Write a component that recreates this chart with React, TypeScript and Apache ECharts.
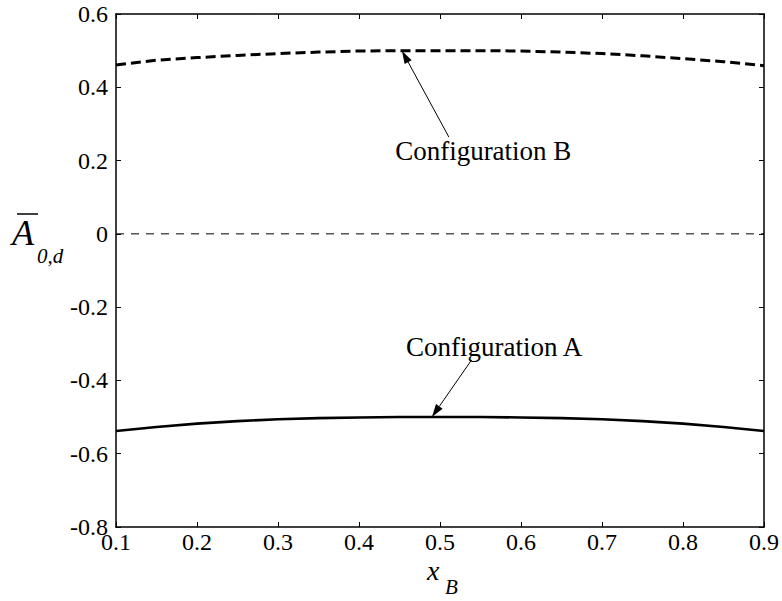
import React, { useEffect, useRef } from "react";
import * as echarts from "echarts";

// Positions along the axis x_B
const xB = [0.1, 0.15, 0.2, 0.25, 0.3, 0.35, 0.4, 0.45, 0.5, 0.55, 0.6, 0.65, 0.7, 0.75, 0.8, 0.85, 0.9];

// Mean coefficient for the two configurations
const configA = [-0.538, -0.527, -0.518, -0.511, -0.506, -0.503, -0.501, -0.5, -0.5, -0.5, -0.501, -0.503, -0.506, -0.511, -0.518, -0.527, -0.538];
const configB = [0.461, 0.474, 0.481, 0.487, 0.492, 0.496, 0.499, 0.5, 0.5, 0.5, 0.499, 0.496, 0.492, 0.486, 0.478, 0.47, 0.459];

// Reference line at zero
const zeroX = [0.1, 0.9];
const zeroY = [0, 0];

// Annotations: label anchor, arrow tail and arrow tip, in data coordinates
const labelB = { text: "Configuration B", at: [0.4446, 0.226], tail: [0.511, 0.264], tip: [0.453, 0.5] };
const labelA = { text: "Configuration A", at: [0.458, -0.309], tail: [0.539, -0.344], tip: [0.49, -0.5] };

const FONT = "Liberation Serif";

const pairs = (xs: number[], ys: number[]) => xs.map((x, i) => [x, ys[i]]);

export default function App() {
  const ref = useRef<HTMLDivElement>(null);

  useEffect(() => {
    if (!ref.current) return;
    const chart = echarts.init(ref.current, null, { renderer: "svg" });

    const axisLine = { show: true, onZero: false, lineStyle: { color: "#000", width: 1.5 } };
    const axisTick = { show: true, inside: true, length: 5, lineStyle: { color: "#000", width: 1 } };

    chart.setOption({
      animation: false,
      backgroundColor: "#fff",
      textStyle: { fontFamily: FONT },
      grid: { left: 116, right: 16, top: 14, bottom: 74, containLabel: false },
      xAxis: [
        {
          type: "value",
          min: 0.1,
          max: 0.9,
          interval: 0.1,
          position: "bottom",
          axisLine,
          axisTick,
          splitLine: { show: false },
          axisLabel: { color: "#000", fontFamily: FONT, fontSize: 24, margin: 5, lineHeight: 20 },
        },
        {
          type: "value",
          min: 0.1,
          max: 0.9,
          interval: 0.1,
          position: "top",
          axisLine,
          axisTick,
          splitLine: { show: false },
          axisLabel: { show: false },
        },
      ],
      yAxis: [
        {
          type: "value",
          min: -0.8,
          max: 0.6,
          interval: 0.2,
          position: "left",
          axisLine,
          axisTick,
          splitLine: { show: false },
          axisLabel: { color: "#000", fontFamily: FONT, fontSize: 24, margin: 8 },
        },
        {
          type: "value",
          min: -0.8,
          max: 0.6,
          interval: 0.2,
          position: "right",
          axisLine,
          axisTick,
          splitLine: { show: false },
          axisLabel: { show: false },
        },
      ],
      series: [
        {
          type: "line",
          name: "zero",
          data: pairs(zeroX, zeroY),
          symbol: "none",
          lineStyle: { color: "#000", width: 1, type: [8, 7] },
        },
        {
          type: "line",
          name: "Configuration A",
          data: pairs(xB, configA),
          symbol: "none",
          lineStyle: { color: "#000", width: 2.6 },
        },
        {
          type: "line",
          name: "Configuration B",
          data: pairs(xB, configB),
          symbol: "none",
          lineStyle: { color: "#000", width: 3, type: [10, 5] },
        },
      ],
    });

    const px = (p: number[]) => chart.convertToPixel({ xAxisIndex: 0, yAxisIndex: 0 }, p) as number[];

    const arrow = (tailD: number[], tipD: number[]) => {
      const t = px(tailD);
      const h = px(tipD);
      const dx = h[0] - t[0];
      const dy = h[1] - t[1];
      const len = Math.hypot(dx, dy);
      const ux = dx / len;
      const uy = dy / len;
      const L = 13;
      const w = 4;
      const bx = h[0] - ux * L;
      const by = h[1] - uy * L;
      return [
        {
          type: "line",
          shape: { x1: t[0], y1: t[1], x2: bx, y2: by },
          style: { stroke: "#000", lineWidth: 1 },
        },
        {
          type: "polygon",
          shape: {
            points: [
              [h[0], h[1]],
              [bx - uy * w, by + ux * w],
              [bx + uy * w, by - ux * w],
            ],
          },
          style: { fill: "#000" },
        },
      ];
    };

    const txt = (x: number, y: number, text: string, size: number, italic: boolean, lh?: number) => ({
      type: "text",
      x,
      y,
      style: {
        text,
        fontFamily: FONT,
        fontSize: size,
        fontStyle: italic ? "italic" : "normal",
        lineHeight: lh ?? size,
        fill: "#000",
        textAlign: "left",
        textVerticalAlign: "middle",
      },
    });

    const note = (lab: { text: string; at: number[] }) => {
      const p = px(lab.at);
      return txt(p[0], p[1], lab.text, 27, false);
    };

    chart.setOption({
      graphic: [
        note(labelB),
        ...arrow(labelB.tail, labelB.tip),
        note(labelA),
        ...arrow(labelA.tail, labelA.tip),
        // y-axis title: A with overbar, subscript 0,d
        txt(12, 233, "A", 36, true),
        {
          type: "line",
          shape: { x1: 17, y1: 214, x2: 38, y2: 214 },
          style: { stroke: "#000", lineWidth: 1.5 },
        },
        txt(37, 256, "0,d", 21, true),
        // x-axis title: x with subscript B
        txt(427, 570, "x", 28, true, 14),
        txt(445, 587, "B", 21, true, 16),
      ],
    });

    return () => chart.dispose();
  }, []);

  return (
    <div
      ref={ref}
      style={{ position: "fixed", left: 0, top: 0, width: 782, height: 601, background: "#fff" }}
    />
  );
}
